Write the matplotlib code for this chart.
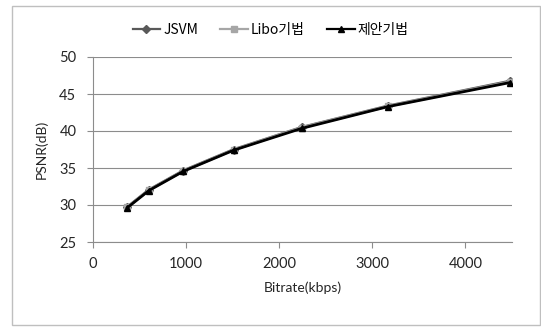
import matplotlib
matplotlib.use("Agg")
import matplotlib.pyplot as plt
from matplotlib.patches import Rectangle

# values
bitrate = [370, 600, 970, 1510, 2240, 3170, 4480]
psnr_jsvm = [29.75, 32.05, 34.65, 37.5, 40.5, 43.4, 46.75]
psnr_libo = [29.7, 32.0, 34.6, 37.45, 40.45, 43.35, 46.65]
psnr_prop = [29.65, 31.95, 34.55, 37.4, 40.35, 43.3, 46.55]
series_names = ["JSVM", "Libo기법", "제안기법"]
x_ticks = [0, 1000, 2000, 3000, 4000]
y_ticks = [25, 30, 35, 40, 45, 50]

plt.rcParams["font.family"] = ["Lato", "Noto Sans CJK KR", "DejaVu Sans"]

fig = plt.figure(figsize=(5.41, 3.27), dpi=100)
fig.patches.append(Rectangle((12 / 541, 2 / 327), 528 / 541, 319 / 327,
                             transform=fig.transFigure, fill=False,
                             edgecolor="#bfbfbf", linewidth=1.0))
ax = fig.add_axes([93 / 541, 1 - 242 / 327, 419 / 541, 185 / 327])

ax.plot(bitrate, psnr_jsvm, color="#595959", lw=2.0, marker="D", ms=4,
        label=series_names[0])
ax.plot(bitrate, psnr_libo, color="#a6a6a6", lw=2.0, marker="s", ms=4,
        label=series_names[1])
ax.plot(bitrate, psnr_prop, color="black", lw=2.0, marker="^", ms=5,
        label=series_names[2])

ax.set_xlim(0, 4500)
ax.set_ylim(25, 50)
ax.set_xticks(x_ticks)
ax.set_yticks(y_ticks)
ax.grid(axis="y", color="#8c8c8c", lw=0.8)
ax.set_axisbelow(True)
for side in ["top", "right"]:
    ax.spines[side].set_visible(False)
ax.spines["left"].set_color("#8c8c8c")
ax.spines["bottom"].set_color("#8c8c8c")
ax.tick_params(axis="both", colors="#8c8c8c", labelcolor="#262626",
               labelsize=10.5, length=4)
ax.tick_params(axis="y", pad=8)
ax.tick_params(axis="x", pad=7)

ax.set_xlabel("Bitrate(kbps)", fontsize=10, color="#262626", labelpad=7)
ax.set_ylabel("PSNR(dB)", fontsize=10, color="#262626", labelpad=8)

leg = fig.legend(loc="center", bbox_to_anchor=(0.5, 1 - 30 / 327), ncol=3,
                 frameon=False, handlelength=2.0, columnspacing=1.6,
                 handletextpad=0.2,
                 prop={"family": ["Noto Sans CJK KR", "DejaVu Sans"], "size": 10})
for line in leg.get_lines():
    line.set_linewidth(1.6)

fig.savefig("out.png", dpi=100)
